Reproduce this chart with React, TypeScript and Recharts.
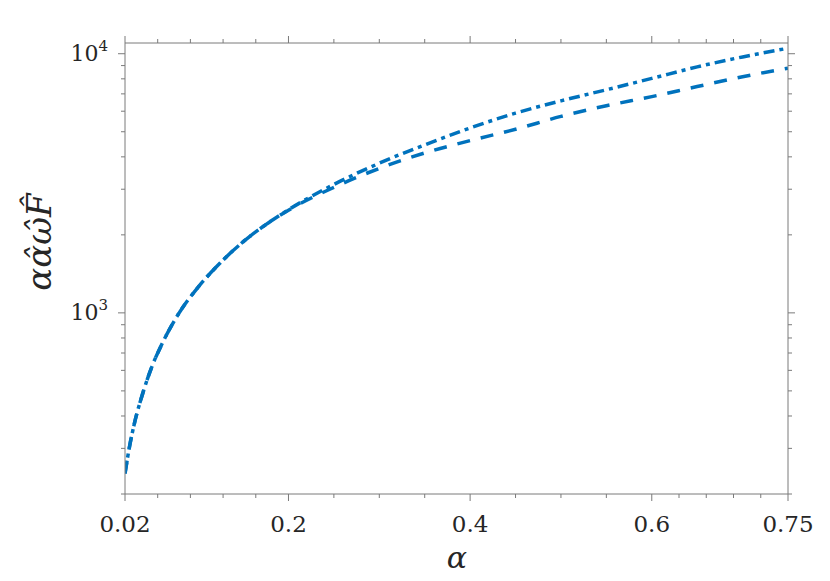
import React from 'react';
import { LineChart, Line, XAxis, YAxis, Label } from 'recharts';

// alpha sample points and the two curves
const alphaVals = [0.02, 0.025, 0.03, 0.04, 0.05, 0.06, 0.08, 0.1, 0.125, 0.15, 0.175, 0.2, 0.25, 0.3, 0.35, 0.4, 0.45, 0.5, 0.55, 0.6, 0.65, 0.7, 0.75];
const dashDotVals = [240, 305, 370, 495, 625, 750, 1005, 1250, 1560, 1880, 2190, 2500, 3130, 3780, 4450, 5170, 5900, 6580, 7260, 8030, 8900, 9720, 10500];
const dashedVals = [240, 305, 370, 495, 625, 750, 1005, 1250, 1560, 1880, 2190, 2490, 3050, 3610, 4140, 4620, 5110, 5730, 6300, 6830, 7470, 8150, 8800];

const xTicks = [0.02, 0.056, 0.092, 0.128, 0.164, 0.2, 0.25, 0.3, 0.35, 0.4, 0.45, 0.5, 0.55, 0.6, 0.63, 0.66, 0.69, 0.72, 0.75];
const xMajor = [0.02, 0.2, 0.4, 0.6, 0.75];
const xLabels = ['0.02', '0.2', '0.4', '0.6', '0.75'];

const yTicks = [200, 300, 400, 500, 600, 700, 800, 900, 1000, 2000, 3000, 4000, 5000, 6000, 7000, 8000, 9000, 10000];
const yMajor = [1000, 10000];
const yExponents = ['3', '4'];

const rows = alphaVals.map((a, i) => ({ a, dd: dashDotVals[i], dash: dashedVals[i] }));

const AXIS = '#7a7a7a';
const TEXT = '#262626';
const BLUE = '#0072BD';
const SERIF = 'DejaVu Serif';

const majorIdx = (list: number[], v: number) => list.findIndex(m => Math.abs(m - v) < 1e-9);

const BottomTick = ({ x, y, payload }: any) => {
  const i = majorIdx(xMajor, payload.value);
  const len = i >= 0 ? 7 : 4;
  return (
    <g>
      <line x1={x} x2={x} y1={y} y2={y + len} stroke={AXIS} />
      {i >= 0 && (
        <text x={x} y={y + 38} textAnchor="middle" fontSize={23} fontFamily={SERIF} fill={TEXT}>{xLabels[i]}</text>
      )}
    </g>
  );
};

const TopTick = ({ x, y, payload }: any) => {
  const len = majorIdx(xMajor, payload.value) >= 0 ? 7 : 4;
  return <line x1={x} x2={x} y1={y} y2={y - len} stroke={AXIS} />;
};

const LeftTick = ({ x, y, payload }: any) => {
  const i = majorIdx(yMajor, payload.value);
  const len = i >= 0 ? 7 : 4;
  return (
    <g>
      <line x1={x - len} x2={x} y1={y} y2={y} stroke={AXIS} />
      {i >= 0 && (
        <text x={x - 17} y={y + 7.5} textAnchor="end" fontSize={22} fontFamily={SERIF} fill={TEXT}>
          10<tspan dy={-10} fontSize={15}>{yExponents[i]}</tspan>
        </text>
      )}
    </g>
  );
};

const RightTick = ({ x, y, payload }: any) => {
  const len = majorIdx(yMajor, payload.value) >= 0 ? 7 : 4;
  return <line x1={x} x2={x + len} y1={y} y2={y} stroke={AXIS} />;
};

export default function App() {
  return (
    <div style={{ position: 'absolute', left: 0, top: 0, width: 830, height: 581, background: '#fff' }}>
      <LineChart width={830} height={581} data={rows} margin={{ top: 0, right: 0, bottom: 0, left: 0 }}>
        <XAxis
          xAxisId="b" dataKey="a" type="number" domain={[0.02, 0.75]} allowDataOverflow
          ticks={xTicks} interval={0} tick={BottomTick} tickLine={false} tickSize={0} tickMargin={0}
          height={87} stroke={AXIS}
        >
          <Label
            content={() => (
              <text x={457} y={568} textAnchor="middle" fontSize={30} fontStyle="italic" fontFamily={SERIF} fill={TEXT}>α</text>
            )}
          />
        </XAxis>
        <XAxis
          xAxisId="t" dataKey="a" orientation="top" type="number" domain={[0.02, 0.75]} allowDataOverflow
          ticks={xTicks} interval={0} tick={TopTick} tickLine={false} tickSize={0} tickMargin={0}
          height={43} stroke={AXIS}
        />
        <YAxis
          yAxisId="l" type="number" scale="log" domain={[200, 11000]} allowDataOverflow
          ticks={yTicks} interval={0} tick={LeftTick} tickLine={false} tickSize={0} tickMargin={0}
          width={125} stroke={AXIS}
        >
          <Label
            content={() => (
              <text transform="translate(51,242) rotate(-90)" textAnchor="middle" fontSize={34} fontStyle="italic" fontFamily={SERIF} fill={TEXT}>
                αα̂ω̂F̂
              </text>
            )}
          />
        </YAxis>
        <YAxis
          yAxisId="r" orientation="right" type="number" scale="log" domain={[200, 11000]} allowDataOverflow
          ticks={yTicks} interval={0} tick={RightTick} tickLine={false} tickSize={0} tickMargin={0}
          width={42} stroke={AXIS}
        />
        <Line
          xAxisId="b" yAxisId="l" type="monotone" dataKey="dd" stroke={BLUE} strokeWidth={3.5}
          strokeDasharray="11 5 4 5" dot={false} isAnimationActive={false}
        />
        <Line
          xAxisId="b" yAxisId="l" type="monotone" dataKey="dash" stroke={BLUE} strokeWidth={3.5}
          strokeDasharray="13 11" dot={false} isAnimationActive={false}
        />
      </LineChart>
    </div>
  );
}
